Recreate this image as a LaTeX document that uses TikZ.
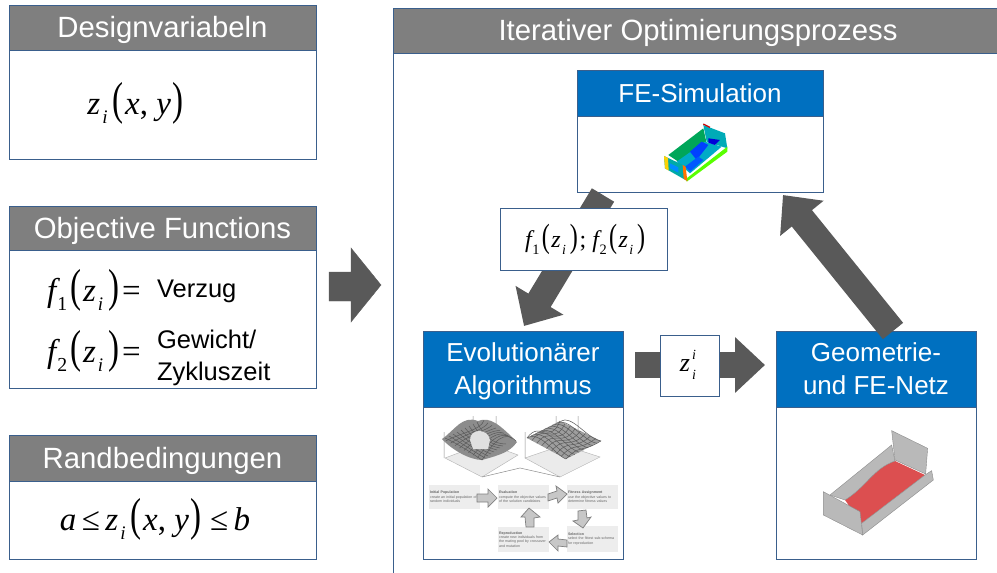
\documentclass[tikz,border=0pt]{standalone}
\usepackage{fontspec}
\usepackage{graphicx}
\setmainfont{Liberation Sans}
\newfontfamily\mathf{Liberation Serif}
\usetikzlibrary{arrows.meta}
\definecolor{hdgray}{HTML}{7F7F7F}
\definecolor{hdblue}{HTML}{0070C0}
\definecolor{edge}{HTML}{3A5F8C}
\definecolor{arrowgray}{HTML}{595959}
\definecolor{plate}{HTML}{B9B9B9}
\definecolor{redfloor}{HTML}{DC4F50}
\newcommand{\vr}[1]{{\mathf\itshape #1}}
\newcommand{\lo}[1]{\kern.03em\raisebox{-.3em}{\scalebox{.6}{\mathf #1}}\kern.05em}
\newcommand{\loi}[1]{\kern.06em\raisebox{-.3em}{\scalebox{.58}{\mathf\itshape #1}}\kern.1em}
\newcommand{\lp}{\kern.04em\scalebox{1}[1.4]{\mathf(}\kern.06em}
\newcommand{\rp}{\kern.06em\scalebox{1}[1.4]{\mathf)}\kern.08em}
\tikzset{
  x=1pt,y=-1pt,
  panel/.style={draw=edge,line width=.9pt,fill=white,inner sep=0pt,outer sep=0pt,anchor=north west},
  grayhead/.style={draw=edge,line width=.9pt,fill=hdgray,text=white,inner sep=0pt,outer sep=0pt,anchor=north west,text height=20pt,text depth=0pt,font=\fontsize{29.3}{31}\selectfont},
  bluehead/.style={draw=edge,line width=.9pt,fill=hdblue,text=white,inner sep=0pt,outer sep=0pt,anchor=north west,font=\fontsize{26}{33}\selectfont,align=center},
  formula/.style={inner sep=0pt,outer sep=0pt,font=\mathf\fontsize{33}{35}\selectfont},
  note/.style={inner sep=0pt,outer sep=0pt,anchor=west,font=\fontsize{25.5}{32}\selectfont,align=left},
  labelbox/.style={draw=edge,line width=.9pt,fill=white,inner sep=0pt,outer sep=0pt,anchor=north west},
  bigarrow/.style={draw=arrowgray,line width=26pt,-{Triangle[length=30pt,width=54pt,fill=arrowgray]}},
  flowbox/.style={fill=black!7,inner sep=1pt,outer sep=0pt,anchor=north west,minimum width=51pt,minimum height=24pt,text width=49pt,align=left,text=black!60,font=\fontsize{3.6}{4.4}\selectfont},
  flowarrow/.style={draw=black!50,fill=black!22,line width=.7pt},
  mesh/.style={draw=black!65,line width=.5pt},
  axisline/.style={draw=black!45,line width=.5pt},
  platefill/.style={fill=black!8,draw=black!30,line width=.4pt},
  trayface/.style={draw=black!45,line width=.4pt,fill=plate},
}
\begin{document}
\begin{tikzpicture}
\useasboundingbox (0,0) rectangle (997,573);
% left panels
\node[panel,minimum width=307pt,minimum height=154pt] (dv) at (9,5) {};
\node[grayhead,minimum width=307pt,minimum height=45pt] (dvh) at (9,5) {Designvariabeln};
\node[formula] (dvf) at (137,103) {\vr{z}\loi{i}\lp\vr{x}, \vr{y}\rp};

\node[panel,minimum width=307pt,minimum height=182pt] (of) at (9,206) {};
\node[grayhead,minimum width=307pt,minimum height=44pt] (ofh) at (9,206) {Objective Functions};
\node[formula] (f1) at (94,290) {\vr{f}\lo{1}\lp\vr{z}\loi{i}\rp=};
\node[note] (f1t) at (157,291) {Verzug};
\node[formula] (f2) at (94,351) {\vr{f}\lo{2}\lp\vr{z}\loi{i}\rp=};
\node[note] (f2t) at (157,358) {Gewicht/\\Zykluszeit};

\node[panel,minimum width=307pt,minimum height=124pt] (rb) at (9,435) {};
\node[grayhead,minimum width=307pt,minimum height=46pt] (rbh) at (9,435) {Randbedingungen};
\node[formula] (rbf) at (155,519) {\vr{a}\,≤\,\vr{z}\loi{i}\lp\vr{x}, \vr{y}\rp\,≤\,\vr{b}};

% main frame
\node[grayhead,minimum width=604pt,minimum height=45pt,draw=edge] (mh) at (393,8) {\kern6pt Iterativer Optimierungsprozess};
\coordinate (mb) at (393,573);
\draw[edge,line width=.9pt] (mh.south west) -- (mb);

% process boxes
\node[panel,minimum width=246pt,minimum height=122pt] (fe) at (577,70) {};
\node[bluehead,minimum width=246pt,minimum height=46pt] (feh) at (577,70) {FE-Simulation};
\node[panel,minimum width=200pt,minimum height=228pt] (ea) at (423,331) {};
\node[bluehead,minimum width=200pt,minimum height=76pt] (eah) at (423,331) {\rule{0pt}{22.5pt}Evolutionärer\\Algorithmus};
\node[panel,minimum width=200pt,minimum height=228pt] (ge) at (776,331) {};
\node[bluehead,minimum width=200pt,minimum height=76pt] (geh) at (776,331) {Geometrie-\\und FE-Netz};

% big arrows
\draw[arrowgray,fill=arrowgray] (329,272) -- (351,272) -- (351,248) -- (381,285) -- (351,322) -- (351,301) -- (329,301) -- cycle;
\draw[bigarrow] ([xshift=26pt,yshift=-3pt]fe.south west) -- ([xshift=101pt,yshift=5pt]ea.north west);
\draw[bigarrow] ([xshift=117pt,yshift=0pt]ge.north west) -- ([xshift=-40pt,yshift=-3pt]fe.south east);
\draw[bigarrow] ([xshift=12pt,yshift=4pt]eah.east) -- ([xshift=-11pt,yshift=4pt]geh.west);

% connector labels
\node[labelbox,minimum width=167pt,minimum height=62pt] (fl) at (500,208) {};
\node[formula,font=\mathf\fontsize{24}{26}\selectfont] (flt) at (586,239) {\vr{f}\lo{1}\lp\vr{z}\loi{i}\rp; \vr{f}\lo{2}\lp\vr{z}\loi{i}\rp};
\node[labelbox,minimum width=59pt,minimum height=61pt] (zl) at (660,335) {};
\node[formula,font=\mathf\itshape\fontsize{26}{28}\selectfont] (zlt) at (685,366) {z};
\node[formula,font=\mathf\itshape\fontsize{14}{14}\selectfont] (zls) at (694,355) {i};
\node[formula,font=\mathf\itshape\fontsize{14}{14}\selectfont] (zlu) at (694,375) {i};

% coloured FE tray
\begin{scope}[shift={(640,110)},x=.3333pt,y=-.3333pt]
\fill[teal!70!green] (85,135) -- (190,55) -- (200,100) -- (130,165) -- cycle;
\fill[cyan!75!green] (110,155) -- (195,95) -- (245,110) -- (150,190) -- cycle;
\fill[blue!75!cyan] (150,125) -- (185,95) -- (205,105) -- (170,150) -- cycle;
\fill[blue!65!cyan] (135,170) -- (175,140) -- (190,150) -- (150,185) -- cycle;
\fill[cyan!65!green] (190,45) -- (255,70) -- (262,115) -- (200,95) -- cycle;
\fill[blue!85!black] (205,85) -- (240,90) -- (225,105) -- (205,98) -- cycle;
\fill[green!65!yellow] (140,205) -- (262,110) -- (262,125) -- (140,215) -- cycle;
\fill[cyan!55!green] (72,138) -- (135,168) -- (140,212) -- (75,175) -- cycle;
\fill[blue!45!cyan] (90,160) -- (115,172) -- (115,188) -- (90,175) -- cycle;
\fill[yellow!70!orange] (72,138) -- (84,144) -- (86,182) -- (75,175) -- cycle;
\fill[orange!90!red] (128,165) -- (137,170) -- (142,214) -- (131,206) -- cycle;
\draw[red!80!black,line width=1.2pt] (190,42) -- (210,52);
\end{scope}

% grey tray with red floor
\begin{scope}[shift={(780,400)},x=.3333pt,y=-.3333pt]
\fill[redfloor] (195,300) .. controls (260,260) and (280,205) .. (345,183) -- (435,225) -- (245,370) -- cycle;
\path[trayface] (150,285) -- (335,135) -- (345,183) .. controls (280,205) and (260,260) .. (195,300) -- cycle;
\path[trayface] (335,92) -- (443,145) -- (437,222) -- (345,180) -- cycle;
\path[trayface] (245,370) -- (435,225) -- (455,212) -- (460,240) -- (248,405) -- cycle;
\path[trayface] (130,275) -- (240,335) -- (248,405) -- (130,345) -- cycle;
\end{scope}

% EA illustration
\path[platefill] (445,458) -- (485,443) -- (518,455) -- (482,477) -- cycle;
\path[platefill] (525,458) -- (563,445) -- (600,457) -- (560,477) -- cycle;
\draw[axisline] (444,432) -- (444,458) (473,416) -- (473,445) (496,416) -- (496,447)
  (525,432) -- (525,458) (556,416) -- (556,445) (578,416) -- (578,447)
  (482,477) -- (520,468) -- (560,477);
\fill[black!45] (442,439) .. controls (455,430) and (462,415) .. (478,421)
  .. controls (490,416) and (500,425) .. (517,442)
  .. controls (510,452) and (500,455) .. (482,460)
  .. controls (470,460) and (452,450) .. cycle;
\foreach \k in {0,...,8}{
  \draw[mesh] (445+\k*4,{438-\k*2}) .. controls (460+\k*3,445-\k) and (470+\k*3,452-\k) .. (482+\k*3,{460-\k*2});
  \draw[mesh] (482-\k*4.5,{460-\k*2.4}) .. controls (495-\k*4,440-\k) and (505-\k*3,430) .. (516-\k*4,{441-\k*2.6});
}
\fill[black!12] (470,440) .. controls (470,428) and (488,428) .. (490,440) -- (488,449) -- (473,449) -- cycle;
\fill[black!38] (527,438) -- (560,421) -- (601,441) -- (566,459) -- cycle;
\foreach \k in {0,...,8}{
  \draw[mesh] ({527+\k*4.2},{438-\k*2.1}) .. controls (540+\k*4,430-\k*2) and (555+\k*4,455-\k*2) .. ({566+\k*4.4},{459-\k*2.25});
  \draw[mesh] ({527+\k*4.9},{438+\k*2.6}) .. controls (540+\k*5,420+\k*3) and (550+\k*4,445+\k) .. ({560+\k*5.1},{421+\k*2.5});
}
\node[flowbox] (b1) at (429,485) {\textbf{Initial Population}\\create an initial population of random individuals};
\node[flowbox] (b2) at (498,485) {\textbf{Evaluation}\\compute the objective values of the solution candidates};
\node[flowbox] (b3) at (567,485) {\textbf{Fitness Assignment}\\use the objective values to determine fitness values};
\node[flowbox,minimum height=26pt] (b4) at (567,526) {\textbf{Selection}\\select the fittest sub-schema for reproduction};
\node[flowbox,minimum height=25pt] (b5) at (498,527) {\textbf{Reproduction}\\create new individuals from the mating pool by crossover and mutation};
\path[flowarrow] (477,494) -- (488,494) -- (488,489) -- (497,498) -- (488,507) -- (488,502) -- (477,502) -- cycle;
\path[flowarrow] (548,494) -- (557,491) -- (556,486) -- (567,494) -- (558,503) -- (557,498) -- (548,501) -- cycle;
\path[flowarrow] (578,511) -- (586,510) -- (587,518) -- (591,517) -- (583,528) -- (573,521) -- (578,520) -- cycle;
\path[flowarrow] (567,540) -- (567,547) -- (558,546) -- (558,551) -- (549,542) -- (558,535) -- (558,539) -- cycle;
\path[flowarrow] (534,527) -- (526,527) -- (525,517) -- (521,517) -- (529,508) -- (540,517) -- (534,518) -- cycle;
\end{tikzpicture}
\end{document}
